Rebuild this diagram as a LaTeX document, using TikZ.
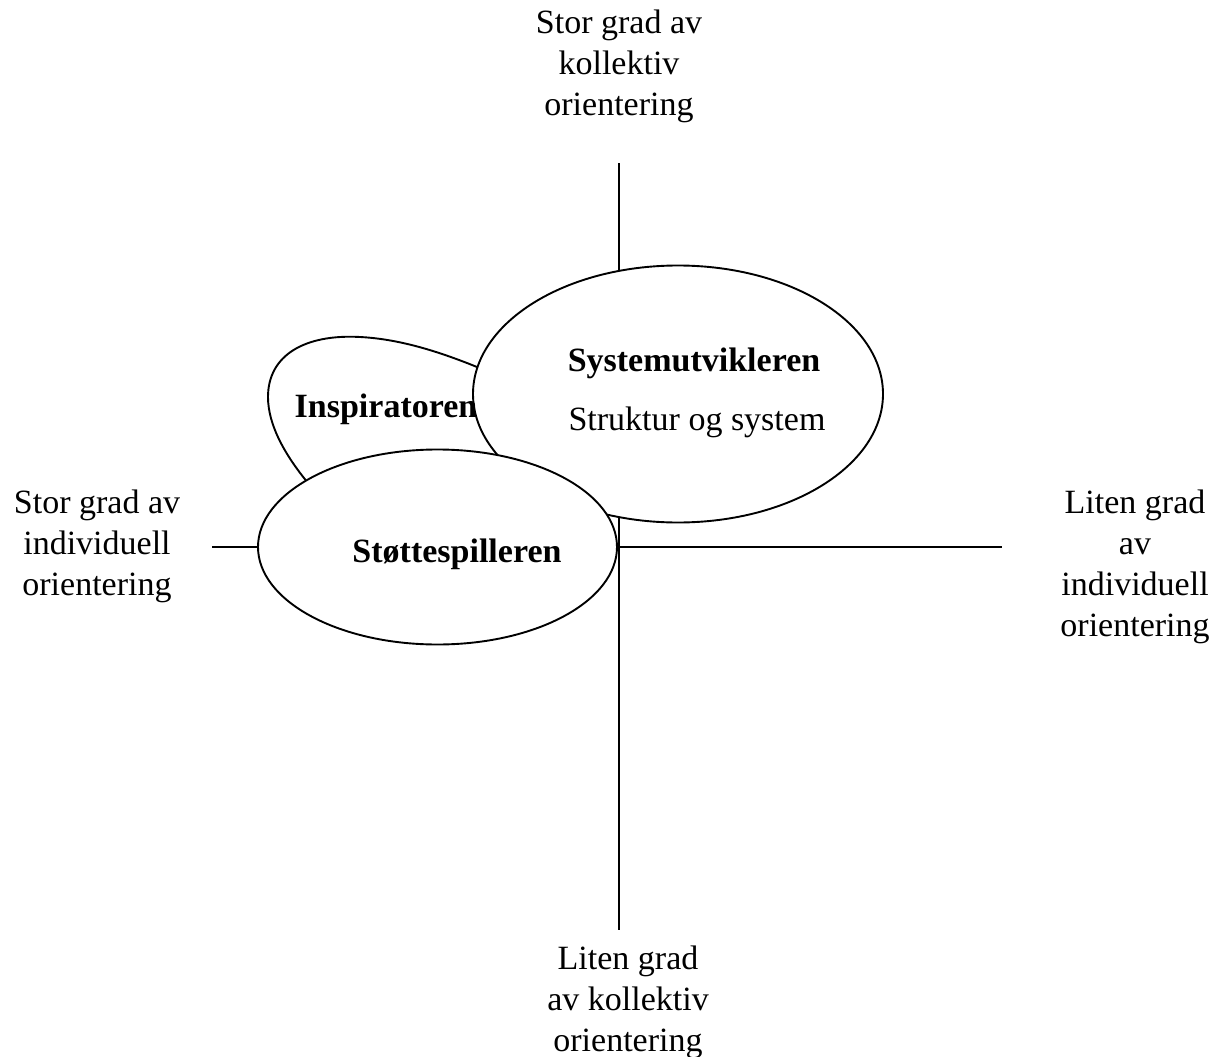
\documentclass[tikz,border=0pt]{standalone}
\usepackage{fontspec}
\setmainfont{Liberation Serif}
\usetikzlibrary{shapes.geometric}
\begin{document}
\begin{tikzpicture}[x=1pt,y=-1pt,
  axis/.style={line width=1.9pt},
  role/.style={ellipse,draw,line width=1.9pt,fill=white,inner sep=0pt},
  pole/.style={align=center,inner sep=0pt,font=\fontsize{34}{41}\selectfont},
  rolename/.style={font=\fontsize{34}{41}\selectfont\bfseries},
  roletext/.style={font=\fontsize{34}{41}\selectfont}]
\useasboundingbox (0,0) rectangle (1224,1057);

% axes
\coordinate (vtop) at (619,163);
\coordinate (vbot) at (619,930);
\coordinate (hleft) at (212,547);
\coordinate (hright) at (1002,547);
\draw[axis] (vtop) -- (vbot);
\draw[axis] (hleft) -- (hright);

% the partly hidden Inspiratoren shape
\draw[line width=1.9pt,fill=white]
  (308,483) .. controls (285,455) and (268,425) .. (268,397)
  .. controls (268,355) and (305,334) .. (360,337)
  .. controls (400,339) and (440,352) .. (477,367)
  .. controls (540,400) and (520,470) .. (470,482)
  .. controls (400,495) and (330,508) .. (308,483) -- cycle;

% main roles
\node[role,minimum width=410pt,minimum height=257pt] (sys) at (678,394) {};
\node[role,minimum width=359pt,minimum height=195pt] (stotte) at (437.5,547) {};

\node[rolename] (insp) at (386,409) {Inspiratoren};
\node[rolename] (sysname) at (694,363) {Systemutvikleren};
\node[roletext] (systext) at (697,422) {Struktur og system};
\node[rolename] (stottename) at (457,554) {Støttespilleren};

% poles of the axes
\node[pole] (top) at (619,66) {Stor grad av\\kollektiv\\orientering};
\node[pole] (left) at (97,546) {Stor grad av\\individuell\\orientering};
\node[pole] (right) at (1135,567) {Liten grad\\av\\individuell\\orientering};
\node[pole] (bottom) at (628,1002) {Liten grad\\av kollektiv\\orientering};
\end{tikzpicture}
\end{document}
